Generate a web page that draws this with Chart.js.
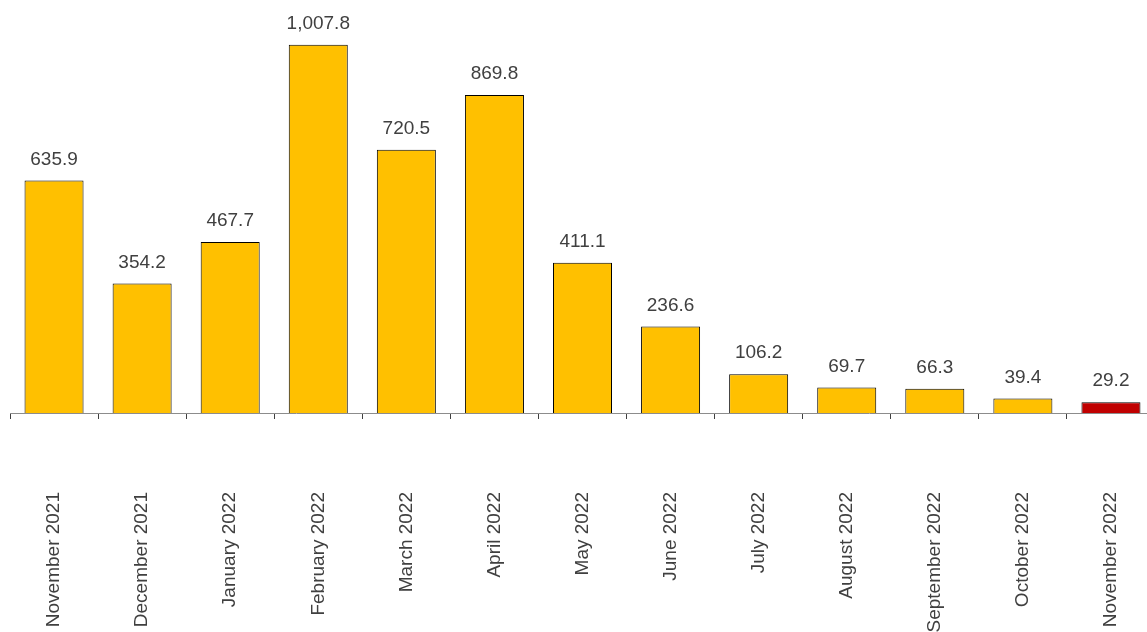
<!DOCTYPE html>
<html>
<head>
<meta charset="utf-8">
<script src="https://cdn.jsdelivr.net/npm/chart.js@4"></script>
<style>
  html, body { margin: 0; padding: 0; background: #fff; overflow: hidden; }
  #wrap { width: 1147px; height: 632px; overflow: hidden; position: relative; }
  #box { width: 1160px; height: 632px; position: absolute; left: 0; top: 0; }
</style>
</head>
<body>
<div id="wrap"><div id="box"><canvas id="chart"></canvas></div></div>
<script>
const months = ['November 2021', 'December 2021', 'January 2022', 'February 2022', 'March 2022',
    'April 2022', 'May 2022', 'June 2022', 'July 2022', 'August 2022', 'September 2022',
    'October 2022', 'November 2022'];
const values = [635.9, 354.2, 467.7, 1007.8, 720.5, 869.8, 411.1, 236.6, 106.2, 69.7, 66.3, 39.4, 29.2];
const barColors = ['#FFC000', '#FFC000', '#FFC000', '#FFC000', '#FFC000', '#FFC000', '#FFC000',
    '#FFC000', '#FFC000', '#FFC000', '#FFC000', '#FFC000', '#C00000'];

const fmt = new Intl.NumberFormat('en-US', { minimumFractionDigits: 1, maximumFractionDigits: 1 });

// value labels above each bar
const valueLabels = {
    id: 'valueLabels',
    afterDatasetsDraw(chart) {
        const ctx = chart.ctx;
        const meta = chart.getDatasetMeta(0);
        ctx.save();
        ctx.font = '19px "Liberation Sans", Arial, sans-serif';
        ctx.fillStyle = '#404040';
        ctx.textAlign = 'center';
        ctx.textBaseline = 'alphabetic';
        meta.data.forEach((bar, i) => {
            ctx.fillText(fmt.format(values[i]), bar.x, bar.y - 16);
        });
        ctx.restore();
    }
};

const ctx = document.getElementById('chart');

new Chart(ctx, {
    type: 'bar',
    data: {
        labels: months,
        datasets: [{
            data: values,
            backgroundColor: barColors,
            borderColor: '#000',
            borderWidth: 1,
            categoryPercentage: 1,
            barPercentage: 0.67
        }]
    },
    options: {
        responsive: true,
        maintainAspectRatio: false,
        animation: false,
        layout: { padding: { left: 10, right: 5, top: 0, bottom: 0 } },
        plugins: {
            legend: { display: false },
            tooltip: { enabled: false }
        },
        scales: {
            x: {
                afterFit: (scale) => {
                    scale.height = 632 - 413;
                    scale.paddingLeft = 0;
                    scale.paddingRight = 0;
                },
                border: { display: true, color: '#8c8c8c', width: 1 },
                grid: {
                    display: true,
                    offset: true,
                    drawOnChartArea: false,
                    drawTicks: true,
                    tickLength: 6,
                    tickColor: '#404040'
                },
                ticks: {
                    minRotation: 90,
                    maxRotation: 90,
                    autoSkip: false,
                    padding: 73,
                    color: '#404040',
                    font: { family: '"Liberation Sans", Arial, sans-serif', size: 19 }
                }
            },
            y: {
                display: false,
                min: 0,
                max: 1130
            }
        }
    },
    plugins: [valueLabels]
});
</script>
</body>
</html>
